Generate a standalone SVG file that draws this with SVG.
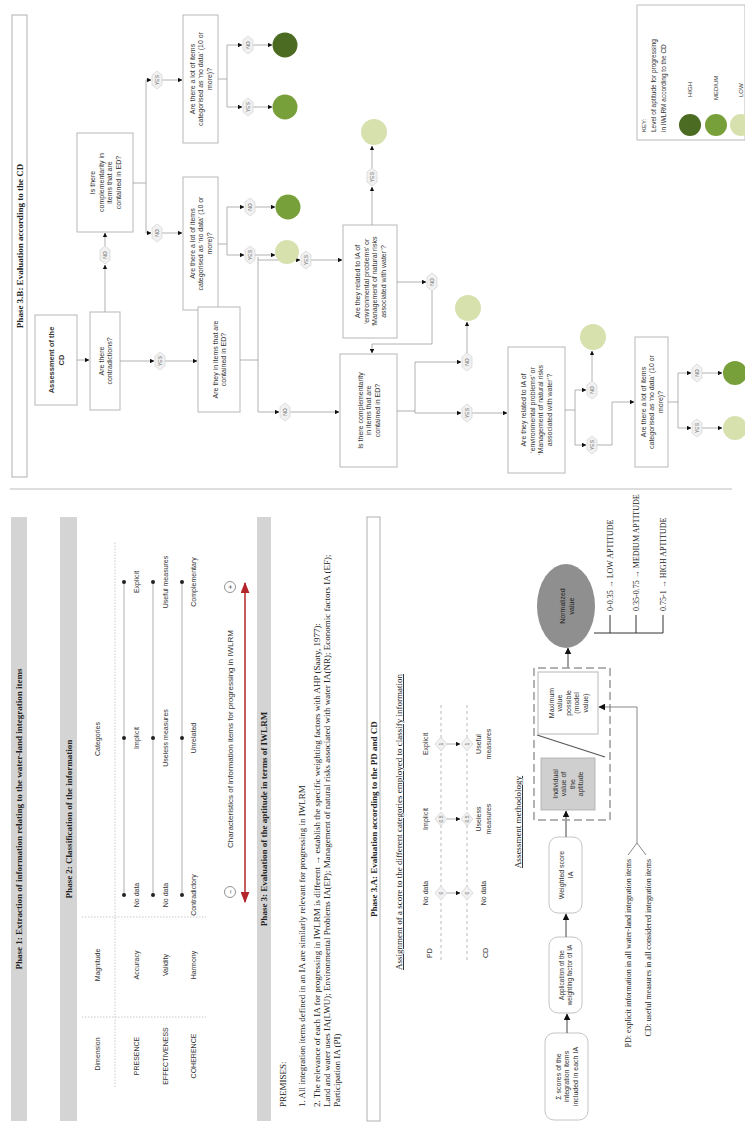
<svg xmlns="http://www.w3.org/2000/svg" xmlns:xlink="http://www.w3.org/1999/xlink" width="745" height="1124" viewBox="0 0 745 1124">
<defs>
<style>
.t{font-family:"Liberation Sans",Arial,sans-serif;fill:#333;font-size:7px}
.tc{font-family:"Liberation Sans",Arial,sans-serif;fill:#333;font-size:7px;text-anchor:middle}
.s{font-family:"Liberation Serif","Times New Roman",serif;fill:#222;font-size:9px}
.h{font-family:"Liberation Serif","Times New Roman",serif;fill:#222;font-size:9px;font-weight:bold;text-anchor:middle}
.bar{fill:#d4d4d4}
.box{fill:#fff;stroke:#b8b8b8;stroke-width:1}
.rb{fill:#fff;stroke:#c4c4c4;stroke-width:1}
.ln{fill:none;stroke:#a0a0a0;stroke-width:0.8}
.dk{fill:none;stroke:#444;stroke-width:1}
.dot{fill:none;stroke:#bdbdbd;stroke-width:0.8;stroke-dasharray:1.5 1.5}
.lab{fill:#f1f1f1;stroke:#d2d2d2;stroke-width:0.7}
.lt{font-family:"Liberation Sans",Arial,sans-serif;fill:#666;font-size:5px;text-anchor:middle}
.hi{fill:#4b6a22}
.me{fill:#78a03a}
.lo{fill:#d6e1ae}
</style>
<marker id="a" viewBox="0 0 6 6" refX="5.5" refY="3" markerWidth="4.5" markerHeight="4.5" orient="auto" markerUnits="userSpaceOnUse"><path d="M0,0 L6,3 L0,6z" fill="#111"/></marker>
<marker id="ab" viewBox="0 0 6 6" refX="5.5" refY="3" markerWidth="7" markerHeight="7" orient="auto" markerUnits="userSpaceOnUse"><path d="M0,0 L6,3 L0,6z" fill="#111"/></marker>
<marker id="r" viewBox="0 0 10 8" refX="9" refY="4" markerWidth="11" markerHeight="9" orient="auto-start-reverse" markerUnits="userSpaceOnUse"><path d="M0,0 L10,4 L0,8z" fill="#b3242b"/></marker>
<polygon id="hx" class="lab" points="-9,0 -5,-5 5,-5 9,0 5,5 -5,5"/>
<polygon id="dm" class="lab" points="-7,0 0,-6 7,0 0,6"/>
</defs>
<rect width="745" height="1124" fill="#fff"/>
<g transform="translate(0,1124) rotate(-90)">

<!-- divider -->
<line x1="635" y1="10" x2="635" y2="732" stroke="#dedede" stroke-width="2"/>

<!-- ===== LEFT PANEL ===== -->
<g id="phase1">
<rect class="bar" x="3" y="11" width="604" height="16"/>
<text class="h" x="305" y="22">Phase 1: Extraction of information relating to the water-land integration items</text>
</g>
<g id="phase2">
<rect class="bar" x="3" y="60" width="604" height="17"/>
<text class="h" x="305" y="72">Phase 2: Classification of the information</text>
<text class="tc" x="70" y="100">Dimension</text>
<text class="tc" x="159" y="100">Magnitude</text>
<text class="tc" x="385" y="100">Categories</text>
<line class="dot" x1="37" y1="115" x2="582" y2="115"/>
<line class="dot" x1="107" y1="82" x2="107" y2="206"/>
<line class="dot" x1="207" y1="82" x2="207" y2="206"/>
<text class="tc" x="68" y="139">PRESENCE</text>
<text class="tc" x="68" y="168">EFFECTIVENESS</text>
<text class="tc" x="68" y="196">COHERENCE</text>
<text class="tc" x="159" y="139">Accuracy</text>
<text class="tc" x="159" y="168">Validity</text>
<text class="tc" x="159" y="196">Harmony</text>
<g stroke="#999" stroke-width="0.8">
<line x1="229" y1="124" x2="542" y2="124"/>
<line x1="229" y1="153" x2="542" y2="153"/>
<line x1="229" y1="182" x2="542" y2="182"/>
</g>
<g fill="#222">
<circle cx="229" cy="124" r="2"/><circle cx="386" cy="124" r="2"/><circle cx="542" cy="124" r="2"/>
<circle cx="229" cy="153" r="2"/><circle cx="386" cy="153" r="2"/><circle cx="542" cy="153" r="2"/>
<circle cx="229" cy="182" r="2"/><circle cx="386" cy="182" r="2"/><circle cx="542" cy="182" r="2"/>
</g>
<text class="tc" x="229" y="139">No data</text>
<text class="tc" x="386" y="139">Implicit</text>
<text class="tc" x="542" y="139">Explicit</text>
<text class="tc" x="229" y="168">No data</text>
<text class="tc" x="386" y="168">Useless measures</text>
<text class="tc" x="542" y="168">Useful measures</text>
<text class="tc" x="229" y="196">Contradictory</text>
<text class="tc" x="386" y="196">Unrelated</text>
<text class="tc" x="542" y="196">Complementary</text>
</g>

<g id="phase3">
<circle cx="232" cy="230" r="5.5" fill="#fff" stroke="#777" stroke-width="0.8"/>
<text class="tc" x="232" y="232.5">−</text>
<circle cx="537" cy="230" r="5.5" fill="#fff" stroke="#777" stroke-width="0.8"/>
<text class="tc" x="537" y="232.5">+</text>
<text class="tc" x="385" y="233" style="font-size:8px">Characteristics of information items for progressing in IWLRM</text>
<line x1="222" y1="245" x2="541" y2="245" stroke="#b3242b" stroke-width="1.5" marker-start="url(#r)" marker-end="url(#r)"/>
<rect class="bar" x="3" y="257" width="604" height="14"/>
<text class="h" x="305" y="267">Phase 3: Evaluation of the aptitude in terms of IWLRM</text>
<text class="s" x="17" y="286">PREMISES:</text>
<text class="s" x="17" y="305">1. All integration items defined in an IA are similarly relevant for progressing in IWLRM</text>
<text class="s" x="17" y="320">2. The relevance of each IA for progressing in IWLRM is different → establish the specific weighting factors with AHP (Saaty, 1977):</text>
<text class="s" x="17" y="330">Land and water uses IA(LWU); Environmental Problems IA(EP); Management of natural risks associated with water IA(NR); Economic factors IA (EF);</text>
<text class="s" x="17" y="340">Participation IA (PI)</text>
</g>

<g id="phase3a">
<rect x="3" y="367" width="604" height="13" fill="#fff" stroke="#b0b0b0" stroke-width="1"/>
<text class="h" x="305" y="377">Phase 3.A: Evaluation according to the PD and CD</text>
<text class="s" x="302" y="402" text-anchor="middle" text-decoration="underline">Assignment of a score to the different categories employed to classify information</text>
<text class="t" x="166" y="432">PD</text>
<text class="t" x="166" y="488">CD</text>
<line x1="164" y1="441" x2="420" y2="441" stroke="#aaa" stroke-width="0.8" stroke-dasharray="3 3"/>
<line x1="164" y1="467" x2="420" y2="467" stroke="#aaa" stroke-width="0.8" stroke-dasharray="3 3"/>
<text class="tc" x="231" y="428">No data</text>
<text class="tc" x="305" y="428">Implicit</text>
<text class="tc" x="380" y="428">Explicit</text>
<use href="#dm" x="231" y="441"/><use href="#dm" x="305" y="441"/><use href="#dm" x="380" y="441"/>
<use href="#dm" x="231" y="467"/><use href="#dm" x="305" y="467"/><use href="#dm" x="380" y="467"/>
<text class="lt" x="231" y="443">0</text><text class="lt" x="305" y="443">0.5</text><text class="lt" x="380" y="443">1</text>
<text class="lt" x="231" y="469">0</text><text class="lt" x="305" y="469">0.5</text><text class="lt" x="380" y="469">1</text>
<g class="ln" marker-end="url(#a)">
<path d="M231,447 V460"/><path d="M305,447 V460"/><path d="M380,447 V460"/>
</g>
<text class="tc" x="231" y="486">No data</text>
<text class="tc" x="305" y="481">Useless</text>
<text class="tc" x="305" y="491">measures</text>
<text class="tc" x="380" y="481">Useful</text>
<text class="tc" x="380" y="491">measures</text>
<text class="s" x="302" y="521" text-anchor="middle" text-decoration="underline">Assessment methodology</text>

<rect class="rb" x="4" y="545" width="87" height="43" rx="9"/>
<text class="tc" x="47.5" y="560.5">Σ scores of the</text>
<text class="tc" x="47.5" y="569">integration items</text>
<text class="tc" x="47.5" y="577.5">included in each IA</text>
<rect class="rb" x="111" y="549" width="76" height="33" rx="9"/>
<text class="tc" x="149" y="564" style="font-size:6.5px">Application of the</text>
<text class="tc" x="149" y="572" style="font-size:6.5px">weighting factor of IA</text>
<rect class="rb" x="211" y="549" width="76" height="33" rx="9"/>
<text class="tc" x="249" y="564">Weighted score</text>
<text class="tc" x="249" y="572.5">IA</text>
<g class="dk" stroke-width="1.5" marker-end="url(#ab)">
<path d="M91,567 H110"/><path d="M187,566 H210"/><path d="M287,566 H313"/><path d="M456,568 H476"/>
</g>
<rect x="304" y="534" width="152" height="76" fill="none" stroke="#999" stroke-width="1.5" stroke-dasharray="8 4"/>
<rect x="314" y="541" width="52" height="54" fill="#cfcfcf" stroke="#aaa" stroke-width="0.8"/>
<text class="tc" x="340" y="557.5">Individual</text>
<text class="tc" x="340" y="566">value of</text>
<text class="tc" x="340" y="574.5">the</text>
<text class="tc" x="340" y="583">aptitude</text>
<line x1="367" y1="605" x2="389" y2="537" stroke="#555" stroke-width="1.2"/>
<rect class="box" x="390" y="538" width="62" height="60"/>
<text class="tc" x="421" y="553.5">Maximum</text>
<text class="tc" x="421" y="562">value</text>
<text class="tc" x="421" y="570.5">possible</text>
<text class="tc" x="421" y="579">(model</text>
<text class="tc" x="421" y="587.5">value)</text>
<ellipse cx="518" cy="566" rx="42" ry="29" fill="#8f8f8f"/>
<text class="tc" x="518" y="565" style="fill:#1e1e1e">Normalized</text>
<text class="tc" x="518" y="574" style="fill:#1e1e1e">value</text>
<g stroke="#333" stroke-width="1" fill="none">
<path d="M491,594 V663"/><path d="M491,610 H509"/><path d="M491,636 H509"/><path d="M491,663 H509"/>
</g>
<text class="s" x="513" y="613" style="font-size:8px">0-0.35 → LOW APTITUDE</text>
<text class="s" x="513" y="639" style="font-size:8px">0.35-0.75 → MEDIUM APTITUDE</text>
<text class="s" x="513" y="666" style="font-size:8px">0.75-1 → HIGH APTITUDE</text>
<path d="M281,637 H417 V599" fill="none" stroke="#888" stroke-width="1" marker-end="url(#ab)"/>
<path d="M281,637 L269,628 M281,637 L269,646" fill="none" stroke="#888" stroke-width="1"/>
<text class="s" x="265" y="631" text-anchor="end" style="font-size:8px">PD: explicit information in all water-land integration items</text>
<text class="s" x="265" y="651" text-anchor="end" style="font-size:8px">CD: useful measures in all considered integration items</text>
</g>

<!-- ===== RIGHT PANEL: PHASE 3.B ===== -->
<g id="phase3b-title">
<rect x="647" y="12" width="462" height="15" fill="#fff" stroke="#b0b0b0" stroke-width="1"/>
<text class="h" x="878" y="23">Phase 3.B: Evaluation according to the CD</text>
</g>

<g id="nA"><rect class="box" x="719" y="35" width="90" height="42"/>
<text class="tc" x="764" y="54" style="font-weight:bold;font-size:7.5px">Assessment of the</text>
<text class="tc" x="764" y="63.5" style="font-weight:bold;font-size:7.5px">CD</text></g>
<g id="nB"><rect class="box" x="714" y="90" width="98" height="30"/>
<text class="tc" x="763" y="103.5">Are there</text>
<text class="tc" x="763" y="112">contradictions?</text></g>
<g id="nC"><rect class="box" x="892" y="77" width="99" height="56"/>
<text class="tc" x="941.5" y="95">Is there</text>
<text class="tc" x="941.5" y="103.5">complementarity in</text>
<text class="tc" x="941.5" y="112">items that are</text>
<text class="tc" x="941.5" y="120.5">contained in ED?</text></g>
<g id="nD"><rect class="box" x="814" y="183" width="133" height="35"/>
<text class="tc" x="880.5" y="194.5">Are there a lot of items</text>
<text class="tc" x="880.5" y="203">categorised as ‘no data’ (10 or</text>
<text class="tc" x="880.5" y="211.5">more)?</text></g>
<g id="nE"><rect class="box" x="981" y="183" width="128" height="35"/>
<text class="tc" x="1045" y="194.5">Are there a lot of items</text>
<text class="tc" x="1045" y="203">categorised as ‘no data’ (10 or</text>
<text class="tc" x="1045" y="211.5">more)?</text></g>
<g id="nF"><rect class="box" x="712" y="198" width="105" height="42"/>
<text class="tc" x="764.5" y="217.5">Are they in items that are</text>
<text class="tc" x="764.5" y="226">contained in ED?</text></g>
<g id="nG"><rect class="box" x="786" y="343" width="113" height="54"/>
<text class="tc" x="842.5" y="360">Are they related to IA of</text>
<text class="tc" x="842.5" y="368.5">‘environmental problems’ or</text>
<text class="tc" x="842.5" y="377">‘Management of natural risks</text>
<text class="tc" x="842.5" y="385.5">associated with water’?</text></g>
<g id="nH"><rect class="box" x="657" y="340" width="113" height="57"/>
<text class="tc" x="713.5" y="362.5">Is there complementarity</text>
<text class="tc" x="713.5" y="371">in items that are</text>
<text class="tc" x="713.5" y="379.5">contained in ED?</text></g>
<g id="nI"><rect class="box" x="651" y="508" width="126" height="57"/>
<text class="tc" x="714" y="526">Are they related to IA of</text>
<text class="tc" x="714" y="534.5">‘environmental problems’ or</text>
<text class="tc" x="714" y="543">‘Management of natural risks</text>
<text class="tc" x="714" y="551.5">associated with water’?</text></g>
<g id="nJ"><rect class="box" x="657" y="635" width="130" height="33"/>
<text class="tc" x="722" y="645.5">Are there a lot of items</text>
<text class="tc" x="722" y="654">categorised as ‘no data’ (10 or</text>
<text class="tc" x="722" y="662.5">more)?</text></g>

<g id="connectors">
<g class="ln">
<path d="M764,240 V258"/><path d="M712,258 H867"/>
<path d="M941,133 V146"/><path d="M891,146 H1044"/>
<path d="M880,218 V227"/><path d="M869,227 H917"/>
<path d="M1045,218 V227"/><path d="M1017,227 H1079"/>
<path d="M713,397 V415"/><path d="M711,415 H762"/>
<path d="M714,565 V575"/><path d="M679,575 H734"/>
<path d="M722,668 V678"/><path d="M696,678 H751"/>
</g>
<g class="ln" marker-end="url(#a)">
<path d="M764,77 V89"/>
<path d="M812,105 H859"/><path d="M878,105 H891"/>
<path d="M763,120 V154"/><path d="M763,165 V197"/>
<path d="M891,146 V151"/><path d="M891,162 V182"/>
<path d="M1044,146 V151"/><path d="M1044,162 V182"/>
<path d="M869,227 V244"/><path d="M869,255 V275"/>
<path d="M917,227 V244"/><path d="M917,255 V275"/>
<path d="M1017,227 V242"/><path d="M1017,253 V272"/>
<path d="M1079,227 V242"/><path d="M1079,253 V272"/>
<path d="M712,258 V279"/><path d="M712,290 V339"/>
<path d="M864,258 V300"/><path d="M864,311 V342"/>
<path d="M899,372 H937"/><path d="M956,372 H978"/>
<path d="M842,397 V426"/><path d="M833,432 H780 V372 H771"/>
<path d="M711,415 V461"/><path d="M711,472 V507"/>
<path d="M762,415 V461"/><path d="M771,467 H802"/>
<path d="M734,575 V586"/><path d="M743,592 H773"/>
<path d="M679,575 V586"/><path d="M679,597 V612 H722 V634"/>
<path d="M696,678 V691"/><path d="M696,702 V722"/>
<path d="M751,678 V691"/><path d="M751,702 V722"/>
</g>
<use href="#hx" x="869" y="105"/><text class="lt" x="869" y="107">NO</text>
<use href="#hx" x="763" y="160"/><text class="lt" x="763" y="162">YES</text>
<use href="#hx" x="891" y="157"/><text class="lt" x="891" y="159">NO</text>
<use href="#hx" x="1044" y="157"/><text class="lt" x="1044" y="159">YES</text>
<use href="#hx" x="869" y="250"/><text class="lt" x="869" y="252">YES</text>
<use href="#hx" x="917" y="250"/><text class="lt" x="917" y="252">NO</text>
<use href="#hx" x="1017" y="248"/><text class="lt" x="1017" y="250">YES</text>
<use href="#hx" x="1079" y="248"/><text class="lt" x="1079" y="250">NO</text>
<use href="#hx" x="712" y="285"/><text class="lt" x="712" y="287">NO</text>
<use href="#hx" x="864" y="306"/><text class="lt" x="864" y="308">YES</text>
<use href="#hx" x="947" y="372"/><text class="lt" x="947" y="374">YES</text>
<use href="#hx" x="842" y="432"/><text class="lt" x="842" y="434">NO</text>
<use href="#hx" x="711" y="467"/><text class="lt" x="711" y="469">YES</text>
<use href="#hx" x="762" y="467"/><text class="lt" x="762" y="469">NO</text>
<use href="#hx" x="734" y="592"/><text class="lt" x="734" y="594">NO</text>
<use href="#hx" x="679" y="592"/><text class="lt" x="679" y="594">YES</text>
<use href="#hx" x="696" y="697"/><text class="lt" x="696" y="699">YES</text>
<use href="#hx" x="751" y="697"/><text class="lt" x="751" y="699">NO</text>
</g>

<g id="results">
<circle class="lo" cx="872" cy="287" r="12"/>
<circle class="me" cx="917" cy="288" r="12.5"/>
<circle class="me" cx="1017" cy="285" r="12.5"/>
<circle class="hi" cx="1079" cy="285" r="12.5"/>
<circle class="lo" cx="992" cy="374" r="13"/>
<circle class="lo" cx="816" cy="468" r="13"/>
<circle class="lo" cx="787" cy="593" r="13"/>
<circle class="lo" cx="696" cy="735" r="12"/>
<circle class="me" cx="751" cy="735" r="12"/>
</g>

<g id="legend">
<rect x="984" y="637" width="135" height="108" fill="#fff" stroke="#bbb" stroke-width="1"/>
<text class="t" x="992" y="646" style="font-size:6px">KEY:</text>
<text class="t" x="992" y="656" style="font-size:6.5px">Level of aptitude for progressing</text>
<text class="t" x="992" y="666" style="font-size:6.5px">in IWLRM according to the CD</text>
<circle class="hi" cx="999" cy="690" r="11"/>
<circle class="me" cx="999" cy="716" r="11"/>
<circle class="lo" cx="999" cy="741" r="11"/>
<text class="t" x="1027" y="692" style="font-size:6px">HIGH</text>
<text class="t" x="1024" y="718" style="font-size:6px">MEDIUM</text>
<text class="t" x="1027" y="743" style="font-size:6px">LOW</text>
</g>
</g>
</svg>
